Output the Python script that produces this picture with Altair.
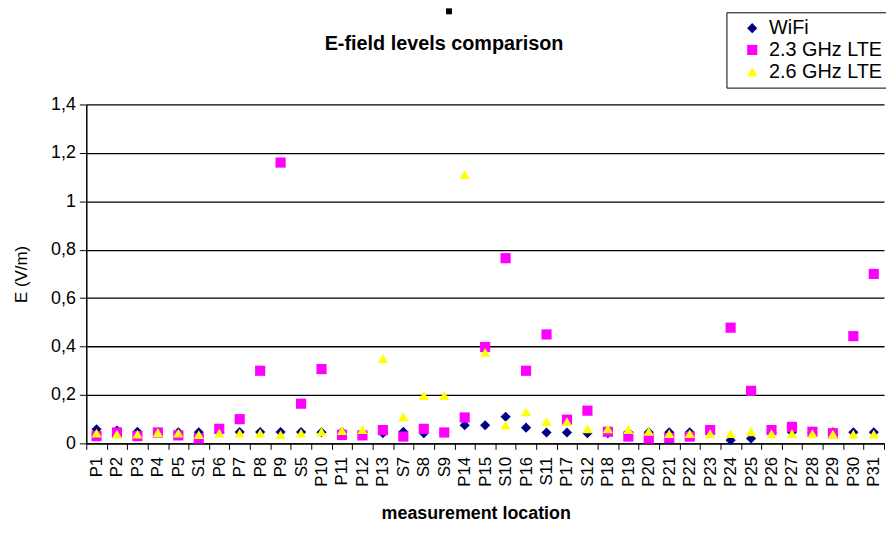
import altair as alt
import pandas as pd

locations = ["P1", "P2", "P3", "P4", "P5", "S1", "P6", "P7", "P8", "P9", "S5", "P10",
             "P11", "P12", "P13", "S7", "S8", "S9", "P14", "P15", "S10", "P16", "S11",
             "P17", "S12", "P18", "P19", "P20", "P21", "P22", "P23", "P24", "P25", "P26",
             "P27", "P28", "P29", "P30", "P31"]

wifi = [0.058, 0.053, 0.048, 0.046, 0.046, 0.046, 0.046, 0.047, 0.047, 0.047, 0.047, 0.046,
        0.047, 0.044, 0.042, 0.048, 0.042, 0.045, 0.075, 0.075, 0.110, 0.065, 0.045,
        0.045, 0.042, 0.042, 0.046, 0.046, 0.046, 0.046, 0.046, 0.013, 0.020, 0.046,
        0.046, 0.046, 0.046, 0.046, 0.046]

lte23 = [0.030, 0.045, 0.030, 0.045, 0.033, 0.020, 0.060, 0.100, 0.300, 1.160, 0.164, 0.307,
         0.035, 0.033, 0.055, 0.028, 0.060, 0.045, 0.107, 0.398, 0.765, 0.300, 0.450,
         0.098, 0.135, 0.048, 0.028, 0.020, 0.022, 0.028, 0.055, 0.478, 0.217, 0.055,
         0.068, 0.048, 0.042, 0.443, 0.700]

lte26 = [0.042, 0.038, 0.038, 0.045, 0.042, 0.036, 0.042, 0.042, 0.042, 0.036, 0.042, 0.048,
         0.053, 0.057, 0.350, 0.110, 0.197, 0.197, 1.110, 0.376, 0.075, 0.130, 0.090,
         0.090, 0.060, 0.060, 0.057, 0.050, 0.040, 0.040, 0.040, 0.040, 0.048, 0.040,
         0.040, 0.040, 0.038, 0.038, 0.038]

series_names = ["WiFi", "2.3 GHz LTE", "2.6 GHz LTE"]
series_colors = ["#000080", "#FF00FF", "#FFFF00"]
series_shapes = ["diamond", "square", "triangle-up"]
y_ticks = [0, 0.2, 0.4, 0.6, 0.8, 1.0, 1.2, 1.4]
chart_title = "E-field levels comparison"

rows = []
for k, (name, vals) in enumerate(zip(series_names, [wifi, lte23, lte26])):
    for loc, v in zip(locations, vals):
        rows.append({"location": loc, "series": name, "E": v, "ord": k})
df = pd.DataFrame(rows)

FONT = "Liberation Sans"

legend = alt.Legend(
    title=None, orient="none", legendX=646, legendY=-93,
    strokeColor="black", fillColor="white", padding=6,
    labelFont=FONT, labelFontSize=20, labelColor="black",
    symbolSize=55, symbolStrokeWidth=0, symbolOffset=10, rowPadding=2,
    labelOffset=7,
)

points = alt.Chart(df).mark_point(filled=True, opacity=1, strokeWidth=0).encode(
    x=alt.X("location:N", sort=locations,
            scale=alt.Scale(type="band", paddingInner=0, paddingOuter=0),
            axis=alt.Axis(title="measurement location", labelAngle=270,
                          tickBand="extent", labelFont=FONT, labelFontSize=17,
                          labelColor="black", labelPadding=7, tickSize=6,
                          tickColor="black", domainColor="black", domainWidth=1.5,
                          titleFont=FONT, titleFontSize=18, titleFontWeight="bold",
                          titleColor="black", titlePadding=19, titleX=393,
                          grid=False)),
    y=alt.Y("E:Q", scale=alt.Scale(domain=[0, 1.4], nice=False),
            axis=alt.Axis(title="E (V/m)", values=y_ticks,
                          labelExpr="replace(format(datum.value, '.1~f'), '.', ',')",
                          labelFont=FONT, labelFontSize=18, labelColor="black",
                          labelPadding=4, tickSize=7, tickColor="black",
                          domainColor="black", domainWidth=1.5,
                          grid=True, gridColor="black", gridWidth=1.3,
                          titleFont=FONT, titleFontSize=17, titleFontWeight="normal",
                          titleColor="black", titlePadding=20)),
    color=alt.Color("series:N", sort=series_names,
                    scale=alt.Scale(domain=series_names, range=series_colors),
                    legend=legend),
    shape=alt.Shape("series:N", sort=series_names,
                    scale=alt.Scale(domain=series_names, range=series_shapes),
                    legend=legend),
    size=alt.Size("series:N", sort=series_names,
                  scale=alt.Scale(domain=series_names, range=[105, 105, 125]),
                  legend=None),
    order=alt.Order("ord:Q"),
)

one = pd.DataFrame({"t": [chart_title]})

title_text = alt.Chart(one).mark_text(
    font=FONT, fontSize=20, fontWeight="bold", color="black",
    align="center", baseline="alphabetic"
).encode(x=alt.value(361), y=alt.value(-55), text="t:N")

marker = alt.Chart(one).mark_rect(color="black").encode(
    x=alt.value(363), x2=alt.value(369), y=alt.value(-97), y2=alt.value(-91)
)

chart = alt.layer(points, title_text, marker).properties(
    width=805, height=342,
    autosize=alt.AutoSizeParams(type="none"),
    padding={"left": 79, "top": 95, "right": 2, "bottom": 78},
).configure_view(strokeOpacity=0)

chart.save("out.html", embed_options={"renderer": "svg", "actions": False})
